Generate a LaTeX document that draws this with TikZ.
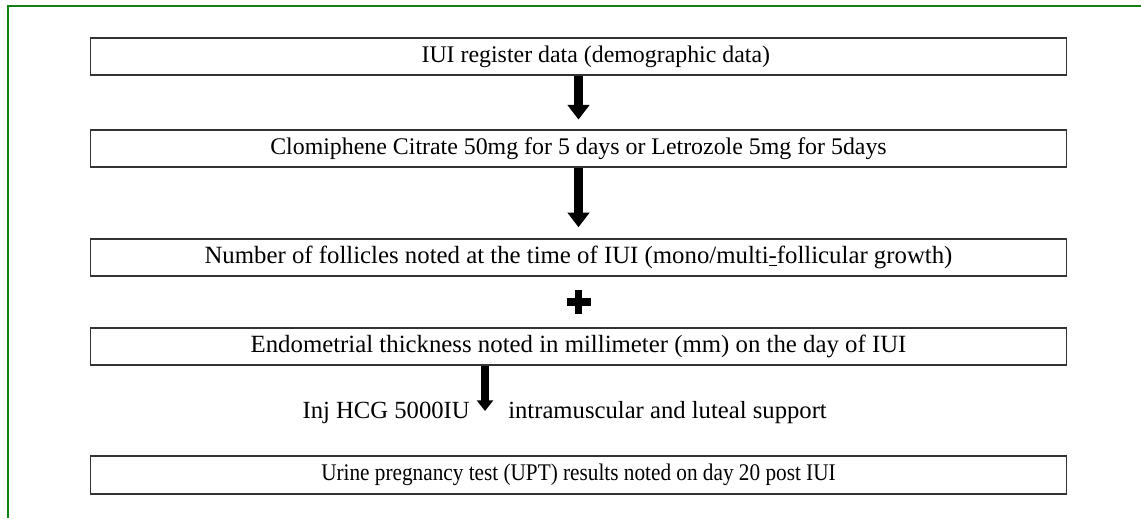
\documentclass[tikz,border=0pt]{standalone}
\usepackage{fontspec}
\setmainfont{Liberation Serif}
\newfontfamily\narrowserif[FakeStretch=0.89]{Liberation Serif}
\usetikzlibrary{arrows.meta}
\definecolor{framegreen}{RGB}{20,128,20}

\begin{document}
\begin{tikzpicture}[x=0.75pt,y=-0.75pt,
  stepbox/.style={draw=black!80,line width=1.4pt,minimum width=732pt,minimum height=28pt,inner sep=0pt,font=\fontsize{17.9}{20}\selectfont},
  bigarrow/.style={line width=7pt,-{Triangle[width=16pt,length=11pt]}},
  smallarrow/.style={line width=6pt,-{Triangle[width=12pt,length=8pt]}},
  sidetext/.style={inner sep=0pt,font=\fontsize{18.5}{20}\selectfont}]
\useasboundingbox (0,0) rectangle (1141,518);
\draw[framegreen,line width=1.6pt] (1141,6) -- (8,6) -- (8,518);

\node[stepbox] (reg) at (578.5,56.5) {\hspace*{26pt}IUI register data (demographic data)};
\node[stepbox] (drug) at (578.5,148.5) {Clomiphene Citrate 50mg for 5 days or Letrozole 5mg for 5days};
\node[stepbox,font=\fontsize{18.6}{20}\selectfont] (foll) at (578.5,257.5) {Number of follicles noted at the time of IUI (mono/multi\underline{-}follicular growth)};
\node[stepbox,font=\fontsize{18.6}{20}\selectfont] (endo) at (578.5,346.5) {Endometrial thickness noted in millimeter (mm) on the day of IUI};
\node[stepbox,font=\narrowserif\fontsize{17.9}{20}\selectfont] (upt) at (578.5,475) {Urine pregnancy test (UPT) results noted on day 20 post IUI};

\draw[bigarrow,shorten >=7pt] (reg.south) -- (drug.north);
\draw[bigarrow,shorten >=8pt] (drug.south) -- (foll.north);

% plus between follicles and endometrium
\coordinate (plus) at (578.5,302);
\draw[line width=5.5pt] (plus) ++(-12,0) -- ++(24,0);
\draw[line width=5.5pt] (plus) ++(0,-12) -- ++(0,24);

\coordinate (hcgtip) at (485,411);
\draw[smallarrow] (endo.south -| hcgtip) -- (hcgtip);
\node[sidetext,anchor=base east] (inj) at (470,418) {Inj HCG 5000IU};
\node[sidetext,anchor=base west] (support) at (508,418) {intramuscular and luteal support};
\end{tikzpicture}
\end{document}
